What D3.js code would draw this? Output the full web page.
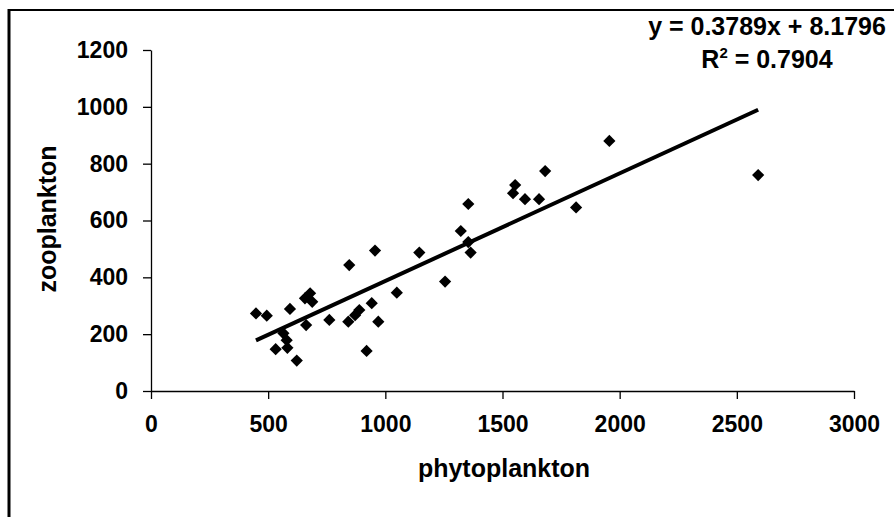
<!DOCTYPE html>
<html>
<head>
<meta charset="utf-8">
<script src="https://cdn.jsdelivr.net/npm/d3@7"></script>
<style>
  body { margin: 0; background: #fff; }
  svg text { font-family: "Liberation Sans", Arial, sans-serif; font-weight: bold; fill: #000; }
</style>
</head>
<body>
<div id="chart"></div>
<script>
// phytoplankton vs zooplankton values
const phyto = [448, 494, 593, 657, 679, 688, 662, 565, 579, 582, 532, 622, 761, 842, 871, 889,
  942, 970, 920, 1049, 846, 956, 1145, 1255, 1322, 1354, 1354, 1364, 1545, 1554, 1596, 1656,
  1682, 1814, 1956, 2591];
const zoo = [273, 265, 289, 326, 344, 314, 232, 203, 179, 152, 147, 107, 250, 244, 267, 285,
  309, 244, 141, 346, 443, 494, 487, 385, 563, 658, 524, 487, 696, 725, 675, 675,
  774, 646, 880, 760];
const xTicks = [0, 500, 1000, 1500, 2000, 2500, 3000];
const yTicks = [0, 200, 400, 600, 800, 1000, 1200];
const slope = 0.3789, intercept = 8.1796, r2 = 0.7904;

const width = 894, height = 517;
const svg = d3.select("#chart").append("svg")
  .attr("width", width)
  .attr("height", height);

// frame of the scanned chart (left and top edges visible)
svg.append("line").attr("x1", 9).attr("x2", 9).attr("y1", 9).attr("y2", height)
  .attr("stroke", "#000").attr("stroke-width", 3);
svg.append("line").attr("x1", 9).attr("x2", width).attr("y1", 10).attr("y2", 10)
  .attr("stroke", "#000").attr("stroke-width", 2);

const x = d3.scaleLinear().domain([0, 3000]).range([151, 854]);
const y = d3.scaleLinear().domain([0, 1200]).range([391, 50]);

// x axis
const xAxis = svg.append("g")
  .attr("transform", `translate(0,${y(0)})`)
  .call(d3.axisBottom(x).tickValues(xTicks).tickFormat(d3.format("d"))
    .tickSize(8).tickPadding(17).tickSizeOuter(0));
xAxis.selectAll("text").style("font-size", "23px");

// y axis
const yAxis = svg.append("g")
  .attr("transform", `translate(${x(0)},0)`)
  .call(d3.axisLeft(y).tickValues(yTicks).tickFormat(d3.format("d"))
    .tickSize(8).tickPadding(15).tickSizeOuter(0));
yAxis.selectAll("text").style("font-size", "23px");

svg.selectAll(".domain, .tick line").attr("stroke", "#000").attr("stroke-width", 1.3);

// trend line
const pts = phyto.map((p, i) => ({ p, z: zoo[i] }));
const xMin = d3.min(phyto), xMax = d3.max(phyto);
svg.append("path")
  .datum([xMin, xMax])
  .attr("d", d3.line().x(d => x(d)).y(d => y(slope * d + intercept)))
  .attr("stroke", "#000")
  .attr("stroke-width", 4)
  .attr("fill", "none");

// markers
svg.selectAll("path.pt")
  .data(pts)
  .enter()
  .append("path")
    .attr("class", "pt")
    .attr("d", d3.symbol().type(d3.symbolDiamond2).size(95))
    .attr("transform", d => `translate(${x(d.p)},${y(d.z)})`)
    .attr("fill", "#000");

// axis titles
svg.append("text")
  .attr("x", 504)
  .attr("y", 477)
  .attr("text-anchor", "middle")
  .style("font-size", "25px")
  .text("phytoplankton");

svg.append("text")
  .attr("transform", "translate(56,219) rotate(-90)")
  .attr("text-anchor", "middle")
  .style("font-size", "25px")
  .text("zooplankton");

// equation
svg.append("text")
  .attr("x", 767)
  .attr("y", 35)
  .attr("text-anchor", "middle")
  .style("font-size", "25px")
  .text(`y = ${slope}x + ${intercept}`);

const r2Text = svg.append("text")
  .attr("x", 767)
  .attr("y", 68)
  .attr("text-anchor", "middle")
  .style("font-size", "25px");
r2Text.append("tspan").text("R");
r2Text.append("tspan").attr("dy", -10).style("font-size", "15px").text("2");
r2Text.append("tspan").attr("dy", 10).text(` = ${r2}`);
</script>
</body>
</html>
